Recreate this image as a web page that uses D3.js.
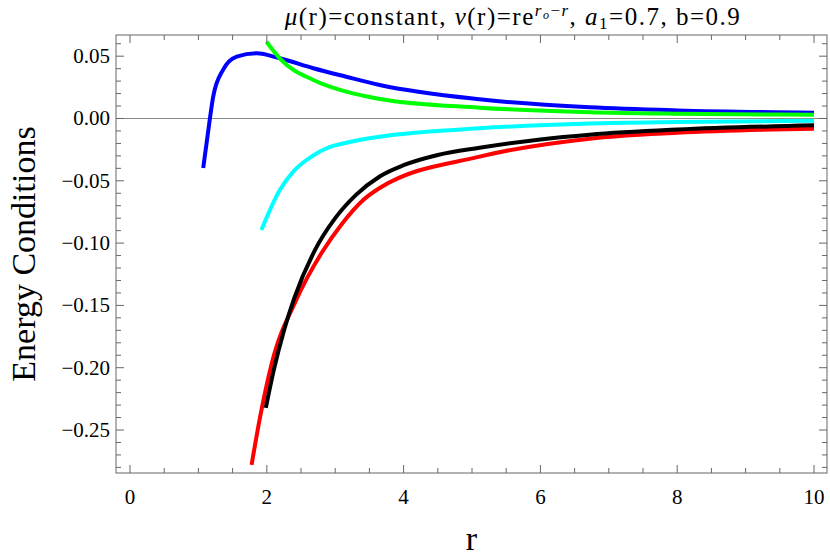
<!DOCTYPE html>
<html>
<head>
<meta charset="utf-8">
<script src="https://cdn.jsdelivr.net/npm/d3@7"></script>
<style>
  body { margin: 0; background: #fff; }
</style>
</head>
<body>
<svg width="830" height="559"></svg>
<script>
// values (r, energy condition)
const blueR = [1.07, 1.168, 1.216, 1.36, 1.56, 1.85, 2.19, 2.68, 3.16, 3.65, 5.11, 6.72, 8, 10];
const blueY = [-0.0397, 0.000, 0.0175, 0.039, 0.0496, 0.0523, 0.0483, 0.0403, 0.0335, 0.0269, 0.0154, 0.0090, 0.0065, 0.0047];

const greenR = [1.995, 2.21, 2.68, 3.16, 3.65, 5.11, 6.72, 8, 10];
const greenY = [0.0616, 0.047, 0.0309, 0.0215, 0.0157, 0.0087, 0.0050, 0.0038, 0.003];

const cyanR = [1.92, 2.19, 2.4, 2.67, 2.9, 3.16, 3.65, 5.11, 6.72, 8, 10];
const cyanY = [-0.0895, -0.0574, -0.0419, -0.0300, -0.0233, -0.0195, -0.0146, -0.0079, -0.0040, -0.0028, -0.0018];

const blackR = [1.985, 2.1, 2.25, 2.4, 2.7, 3.0, 3.3, 3.65, 4.0, 4.5, 5.11, 6.0, 6.72, 8, 10];
const blackY = [-0.2323, -0.2023, -0.1703, -0.1444, -0.1060, -0.0800, -0.0615, -0.0465, -0.0375, -0.0293, -0.0235, -0.0168, -0.0130, -0.0089, -0.0055];

const redR = [1.777, 1.90, 2.07, 2.43, 2.80, 3.1, 3.41, 3.65, 5.11, 6.72, 8, 10];
const redY = [-0.278, -0.240, -0.197, -0.1457, -0.108, -0.0844, -0.0654, -0.0558, -0.0306, -0.0162, -0.0115, -0.0082];

const xTicks = [0, 2, 4, 6, 8, 10];
const yTicks = [0.05, 0.00, -0.05, -0.10, -0.15, -0.20, -0.25];

// drawing order: later ones sit on top
const series = [
  { name: "blue", color: "#0000ff", r: blueR, y: blueY },
  { name: "green", color: "#00ff00", r: greenR, y: greenY },
  { name: "cyan", color: "#00ffff", r: cyanR, y: cyanY },
  { name: "red", color: "#ff0000", r: redR, y: redY },
  { name: "black", color: "#000000", r: blackR, y: blackY },
];

const svg = d3.select("svg").attr("font-family", "'Liberation Serif', 'DejaVu Serif', serif");
const mLeft = 116, mRight = 827, mTop = 35, mBottom = 473;

const x = d3.scaleLinear().domain([-0.205, 10.19]).range([mLeft, mRight]);
const y = d3.scaleLinear().domain([-0.2845, 0.067]).range([mBottom, mTop]);

const frameColor = "#666";

// zero line
svg.append("line")
  .attr("x1", mLeft).attr("x2", mRight)
  .attr("y1", y(0)).attr("y2", y(0))
  .attr("stroke", "#888").attr("stroke-width", 1);

// curves
const line = d3.line()
  .x((d) => x(d[0]))
  .y((d) => y(d[1]))
  .curve(d3.curveMonotoneX);

svg.append("g")
  .selectAll("path")
  .data(series)
  .enter()
  .append("path")
  .attr("d", (s) => line(s.r.map((r, i) => [r, s.y[i]])))
  .attr("fill", "none")
  .attr("stroke", (s) => s.color)
  .attr("stroke-width", 4);

// frame
svg.append("rect")
  .attr("x", mLeft).attr("y", mTop)
  .attr("width", mRight - mLeft).attr("height", mBottom - mTop)
  .attr("fill", "none")
  .attr("stroke", frameColor)
  .attr("stroke-width", 1);

// ticks on all four sides (labels only bottom/left)
const xMinor = d3.range(0, 10.01, 0.5).filter((v) => !xTicks.includes(v));
const yMinor = d3.range(-0.28, 0.0651, 0.01)
  .map((v) => Math.round(v * 100) / 100)
  .filter((v) => !yTicks.some((t) => Math.abs(t - v) < 1e-9));

const tg = svg.append("g").attr("stroke", frameColor).attr("stroke-width", 1);
function xTick(v, len) {
  tg.append("line").attr("x1", x(v)).attr("x2", x(v)).attr("y1", mBottom).attr("y2", mBottom - len);
  tg.append("line").attr("x1", x(v)).attr("x2", x(v)).attr("y1", mTop).attr("y2", mTop + len);
}
function yTick(v, len) {
  tg.append("line").attr("y1", y(v)).attr("y2", y(v)).attr("x1", mLeft).attr("x2", mLeft + len);
  tg.append("line").attr("y1", y(v)).attr("y2", y(v)).attr("x1", mRight).attr("x2", mRight - len);
}
xTicks.forEach((v) => xTick(v, 8));
xMinor.forEach((v) => xTick(v, 5));
yTicks.forEach((v) => yTick(v, 8));
yMinor.forEach((v) => yTick(v, 5));

// tick labels
svg.append("g").selectAll("text")
  .data(xTicks).enter().append("text")
  .attr("x", (d) => x(d)).attr("y", mBottom + 31)
  .attr("text-anchor", "middle")
  .attr("font-size", 21)
  .text((d) => d);

const fmt = (d) => (d < 0 ? "\u2212" : "") + Math.abs(d).toFixed(2);
svg.append("g").selectAll("text")
  .data(yTicks).enter().append("text")
  .attr("x", mLeft - 6).attr("y", (d) => y(d) + 7)
  .attr("text-anchor", "end")
  .attr("font-size", 21)
  .text(fmt);

// axis labels
svg.append("text")
  .attr("x", (mLeft + mRight) / 2).attr("y", 550)
  .attr("text-anchor", "middle")
  .attr("font-size", 34)
  .text("r");

svg.append("text")
  .attr("transform", `translate(35,254) rotate(-90)`)
  .attr("text-anchor", "middle")
  .attr("font-size", 34)
  .text("Energy Conditions");

// title
const title = svg.append("text")
  .attr("x", 513).attr("y", 25)
  .attr("text-anchor", "middle")
  .attr("font-size", 25)
  .attr("letter-spacing", 1.5);
title.append("tspan").attr("font-style", "italic").text("\u03bc");
title.append("tspan").text("(r)=constant, ");
title.append("tspan").attr("font-style", "italic").text("\u03bd");
title.append("tspan").text("(r)=re");
title.append("tspan").attr("font-style", "italic").attr("font-size", 17).attr("dy", -9).text("r");
title.append("tspan").attr("font-style", "italic").attr("font-size", 12).attr("dy", 3).text("o");
title.append("tspan").attr("font-size", 17).attr("dy", -3).text("\u2212");
title.append("tspan").attr("font-style", "italic").attr("font-size", 17).text("r");
title.append("tspan").attr("dy", 9).text(", ");
title.append("tspan").attr("font-style", "italic").text("a");
title.append("tspan").attr("font-size", 17).attr("dy", 4).text("1");
title.append("tspan").attr("dy", -4).text("=0.7, b=0.9");
</script>
</body>
</html>
